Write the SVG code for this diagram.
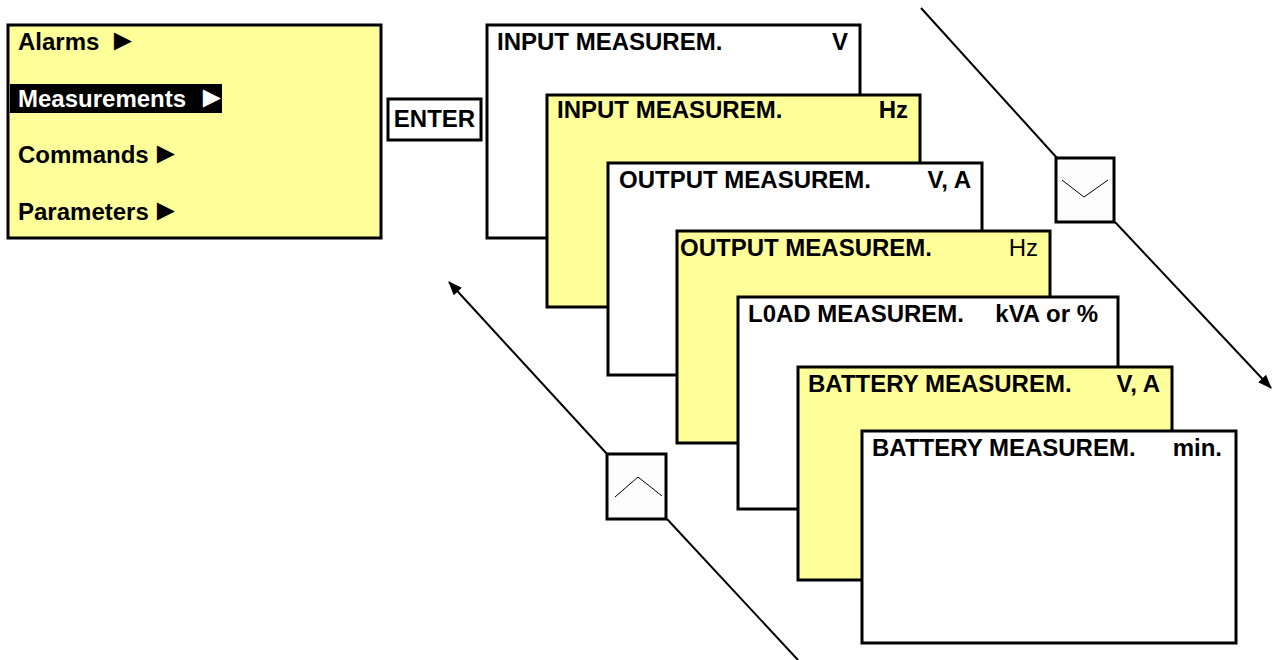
<svg xmlns="http://www.w3.org/2000/svg" width="1274" height="660" viewBox="0 0 1274 660">
<style>
.box{stroke:#000;stroke-width:3}
.y{fill:#FFFF99}
.w{fill:#FFFFFF}
.t{font-family:"Liberation Sans",Arial,sans-serif;font-weight:bold;font-size:24px;fill:#000}
.n{font-weight:normal}
.tri{font-family:"Liberation Sans","DejaVu Sans",sans-serif;font-size:30px}
.key{fill:#FDFDFD;stroke:#000;stroke-width:3}
.chev{fill:none;stroke:#000;stroke-width:1}
.con{fill:none;stroke:#000;stroke-width:2}
</style>
<defs>
<marker id="ah" viewBox="0 0 14 11" refX="13" refY="5.5" markerWidth="14" markerHeight="11" orient="auto" markerUnits="userSpaceOnUse">
<path d="M0,0 L14,5.5 L0,11 Z" fill="#000"/>
</marker>
</defs>
<rect width="1274" height="660" fill="#fff"/>

<g id="menu">
<rect class="box y" x="8" y="25" width="373" height="213"/>
<rect x="10" y="84" width="212" height="29" fill="#000"/>
<text class="t" x="18" y="50">Alarms<tspan class="tri" x="108">►</tspan></text>
<text class="t" x="18" y="107" style="fill:#fff">Measurements<tspan class="tri" x="197">►</tspan></text>
<text class="t" x="18" y="163">Commands<tspan class="tri" x="151">►</tspan></text>
<text class="t" x="18" y="220">Parameters<tspan class="tri" x="151">►</tspan></text>
</g>

<g id="enter">
<rect class="box w" x="388" y="99" width="93" height="41"/>
<text class="t" x="434.5" y="127" text-anchor="middle">ENTER</text>
</g>

<g id="panel1">
<rect class="box w" x="487" y="25" width="373" height="213"/>
<text class="t" x="497" y="50">INPUT MEASUREM.</text>
<text class="t" x="848" y="50" text-anchor="end">V</text>
</g>
<g id="panel2">
<rect class="box y" x="547" y="95" width="373" height="212"/>
<text class="t" x="557" y="118">INPUT MEASUREM.</text>
<text class="t" x="908" y="118" text-anchor="end">Hz</text>
</g>
<g id="panel3">
<rect class="box w" x="608" y="163" width="374" height="212"/>
<text class="t" x="619" y="188">OUTPUT MEASUREM.</text>
<text class="t" x="971" y="188" text-anchor="end">V, A</text>
</g>
<g id="panel4">
<rect class="box y" x="677" y="231" width="373" height="212"/>
<text class="t" x="680" y="256">OUTPUT MEASUREM.</text>
<text class="t n" x="1038" y="256" text-anchor="end">Hz</text>
</g>
<g id="panel5">
<rect class="box w" x="738" y="297" width="380" height="212"/>
<text class="t" x="748" y="322">L0AD MEASUREM.</text>
<text class="t" x="1098" y="322" text-anchor="end">kVA or %</text>
</g>
<g id="panel6">
<rect class="box y" x="798" y="367" width="374" height="213"/>
<text class="t" x="808" y="392">BATTERY MEASUREM.</text>
<text class="t" x="1160" y="392" text-anchor="end">V, A</text>
</g>
<g id="panel7">
<rect class="box w" x="862" y="431" width="374" height="212"/>
<text class="t" x="872" y="456">BATTERY MEASUREM.</text>
<text class="t" x="1222" y="456" text-anchor="end">min.</text>
</g>

<g id="connectors">
<line class="con" x1="921" y1="8" x2="1057" y2="158"/>
<line class="con" x1="1115" y1="222" x2="1271" y2="388" marker-end="url(#ah)"/>
<line class="con" x1="607" y1="454" x2="449" y2="282" marker-end="url(#ah)"/>
<line class="con" x1="667" y1="519" x2="798" y2="660"/>
</g>

<g id="key-down">
<rect class="key" x="1056" y="158" width="58" height="64"/>
<polyline class="chev" points="1062,180 1084,197 1108,180"/>
</g>
<g id="key-up">
<rect class="key" x="607" y="454" width="59" height="65"/>
<polyline class="chev" points="615,497 638,477 662,496"/>
</g>
</svg>
